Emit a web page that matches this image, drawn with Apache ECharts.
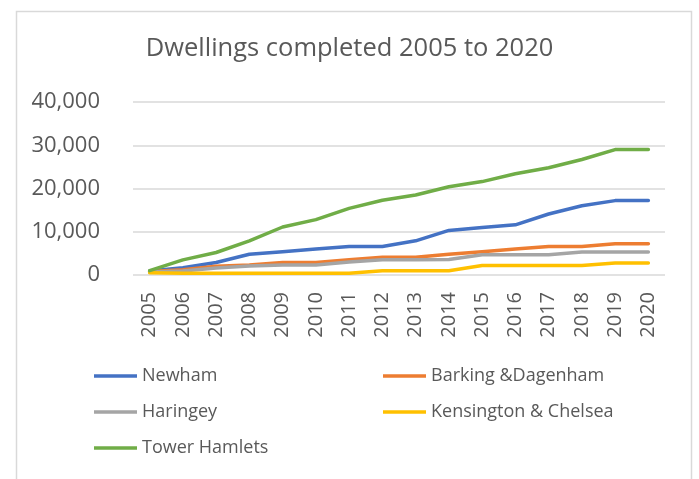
<!DOCTYPE html>
<html>
<head>
<meta charset="utf-8">
<script src="https://cdn.jsdelivr.net/npm/echarts@6/dist/echarts.min.js"></script>
<style>
  html, body { margin: 0; padding: 0; background: #ffffff; }
  #chart { width: 699px; height: 479px; }
</style>
</head>
<body>
<div id="chart"></div>
<script>
// Cumulative dwellings completed per borough, 2005–2020
const years = ['2005','2006','2007','2008','2009','2010','2011','2012','2013','2014','2015','2016','2017','2018','2019','2020'];
const newham = [900, 1700, 2900, 4800, 5400, 6000, 6600, 6600, 7900, 10300, 11000, 11600, 14100, 16000, 17200, 17200];
const barkingDagenham = [800, 1200, 2000, 2300, 2900, 2900, 3500, 4100, 4100, 4800, 5400, 6000, 6600, 6600, 7200, 7200];
const haringey = [700, 900, 1600, 2100, 2300, 2300, 3000, 3500, 3500, 3600, 4700, 4700, 4700, 5300, 5300, 5300];
const kensingtonChelsea = [500, 400, 400, 400, 400, 400, 400, 1000, 1000, 1000, 2200, 2200, 2200, 2200, 2800, 2800];
const towerHamlets = [1000, 3500, 5200, 7900, 11100, 12800, 15400, 17300, 18500, 20400, 21600, 23400, 24800, 26700, 29000, 29000];
const yTicks = [0, 10000, 20000, 30000, 40000];

const seriesDefs = [
  { name: 'Newham', data: newham, color: '#4472C4' },
  { name: 'Barking &Dagenham', data: barkingDagenham, color: '#ED7D31' },
  { name: 'Haringey', data: haringey, color: '#A5A5A5' },
  { name: 'Kensington & Chelsea', data: kensingtonChelsea, color: '#FFC000' },
  { name: 'Tower Hamlets', data: towerHamlets, color: '#70AD47' }
];

const FONT = '"Open Sans", "Noto Sans", sans-serif';
const TEXT = '#595959';

// Legend laid out in two columns, three rows
const legendPos = [
  { left: 89, top: 362 },
  { left: 378, top: 362 },
  { left: 89, top: 398 },
  { left: 378, top: 398 },
  { left: 89, top: 434 }
];

const chart = echarts.init(document.getElementById('chart'), null, { renderer: 'canvas' });

chart.setOption({
  animation: false,
  backgroundColor: '#ffffff',
  graphic: [{
    type: 'rect',
    shape: { x: 16.5, y: 11.5, width: 675, height: 480 },
    style: { fill: 'none', stroke: '#d9d9d9', lineWidth: 1.5 },
    silent: true,
    z: -1
  }],
  title: {
    text: 'Dwellings completed 2005 to 2020',
    left: 'center',
    top: 31,
    textStyle: { fontFamily: FONT, fontSize: 25.5, fontWeight: 'normal', color: TEXT }
  },
  legend: seriesDefs.map((s, i) => ({
    data: [s.name],
    left: legendPos[i].left,
    top: legendPos[i].top,
    icon: 'rect',
    itemWidth: 43,
    itemHeight: 3.5,
    textStyle: { fontFamily: FONT, fontSize: 18, color: TEXT },
    selectedMode: false
  })),
  grid: { left: 133, right: 34, top: 102, bottom: 204, containLabel: false },
  xAxis: {
    type: 'category',
    data: years,
    boundaryGap: true,
    axisLine: { show: false },
    axisTick: { show: false },
    axisLabel: {
      rotate: 90,
      margin: 17,
      fontFamily: FONT,
      fontSize: 20,
      color: TEXT,
      interval: 0
    }
  },
  yAxis: {
    type: 'value',
    min: yTicks[0],
    max: yTicks[yTicks.length - 1],
    interval: yTicks[1] - yTicks[0],
    axisLine: { show: false },
    axisTick: { show: false },
    splitLine: { lineStyle: { color: '#d9d9d9', width: 1.5 } },
    axisLabel: {
      margin: 33,
      fontFamily: FONT,
      fontSize: 22,
      color: TEXT,
      formatter: v => v.toLocaleString('en-US')
    }
  },
  series: seriesDefs.map(s => ({
    name: s.name,
    type: 'line',
    data: s.data,
    showSymbol: false,
    symbol: 'none',
    color: s.color,
    lineStyle: { width: 3.5, color: s.color, cap: 'round', join: 'round' },
    emphasis: { disabled: true }
  }))
});
</script>
</body>
</html>
